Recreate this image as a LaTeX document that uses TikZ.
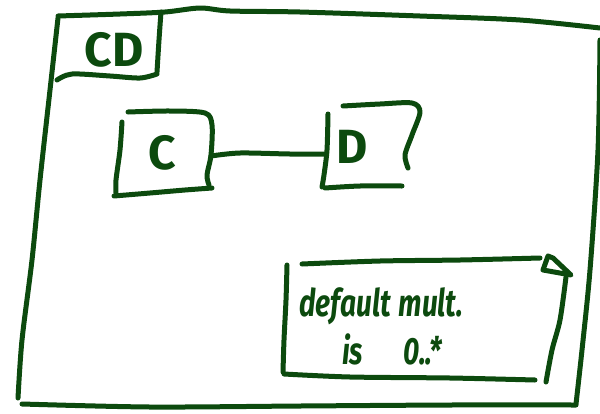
\documentclass[tikz,border=0pt]{standalone}
\usepackage{fontspec}
\setmainfont{Fira Sans}
\newfontfamily\handfont[FakeStretch=0.74]{Fira Sans}
\begin{document}
\begin{tikzpicture}[x=1pt,y=-1pt,
  ink/.style={draw=inkgreen,line width=5pt,line cap=round,line join=round},
  label/.style={text=inkgreen,font=\fontsize{48}{50}\selectfont\bfseries,inner sep=0pt},
  notetext/.style={text=inkgreen,font=\handfont\fontsize{38}{40}\selectfont\bfseries\itshape,inner sep=0pt,anchor=west}]
\definecolor{inkgreen}{HTML}{0C4A0E}
\useasboundingbox (0,0) rectangle (600,413);
% outer frame
\draw[ink] plot[smooth] coordinates {(58,16) (120,14) (165,12) (200,8) (230,11) (300,12) (420,16) (520,20) (600,28)};
\draw[ink] plot[smooth] coordinates {(58,18) (50,90) (40,180) (32,260) (22,340) (18,398)};
\draw[ink] plot[smooth] coordinates {(22,404) (150,407) (300,406) (450,405) (576,405)};
\draw[ink] plot[smooth] coordinates {(600,40) (598,150) (590,270) (582,350) (576,404)};
% frame tab
\draw[ink] plot[smooth] coordinates {(161,12) (159,40) (157,72)};
\draw[ink] plot[smooth] coordinates {(57,80) (72,74) (110,76) (140,78) (157,74)};
\node[label] (cd) at (114,50) {CD};
% class C
\node[label] (c) at (162,153) {C};
\draw[ink] plot[smooth] coordinates {(122,122) (120,150) (116,180) (116,193)};
\draw[ink] plot[smooth] coordinates {(128,112) (170,111) (205,113) (212,125) (211,155) (207,175) (209,185)};
\draw[ink] plot[smooth] coordinates {(114,196) (150,193) (185,190) (212,188)};
% class D
\node[label] (d) at (352,147) {D};
\draw[ink] plot[smooth] coordinates {(328,114) (327,150) (324,175) (322,187)};
\draw[ink] plot[smooth] coordinates {(343,106) (380,104) (412,103) (420,112) (412,135) (405,155) (408,168)};
\draw[ink] plot[smooth] coordinates {(325,188) (360,186) (402,186)};
% association
\coordinate (ce) at (211,156);
\coordinate (dw) at (326,154);
\draw[ink] plot[smooth] coordinates {(ce) (240,153) (290,154) (dw)};
% note
\draw[ink] plot[smooth] coordinates {(287,265) (286,300) (284,340) (283,372)};
\draw[ink] plot[smooth] coordinates {(302,264) (380,261) (460,260) (540,258)};
\draw[ink] plot coordinates {(543,270) (548,256) (553,258) (571,275) (543,270)};
\draw[ink] plot[smooth] coordinates {(566,277) (560,320) (552,350) (546,382)};
\draw[ink] plot[smooth] coordinates {(284,374) (350,377) (450,378) (535,380)};
\node[notetext] (line1) at (299,306) {default\hspace{8pt}mult.};
\node[notetext] (line2) at (342,349) {is\hspace{40pt}0..*};
\end{tikzpicture}
\end{document}
